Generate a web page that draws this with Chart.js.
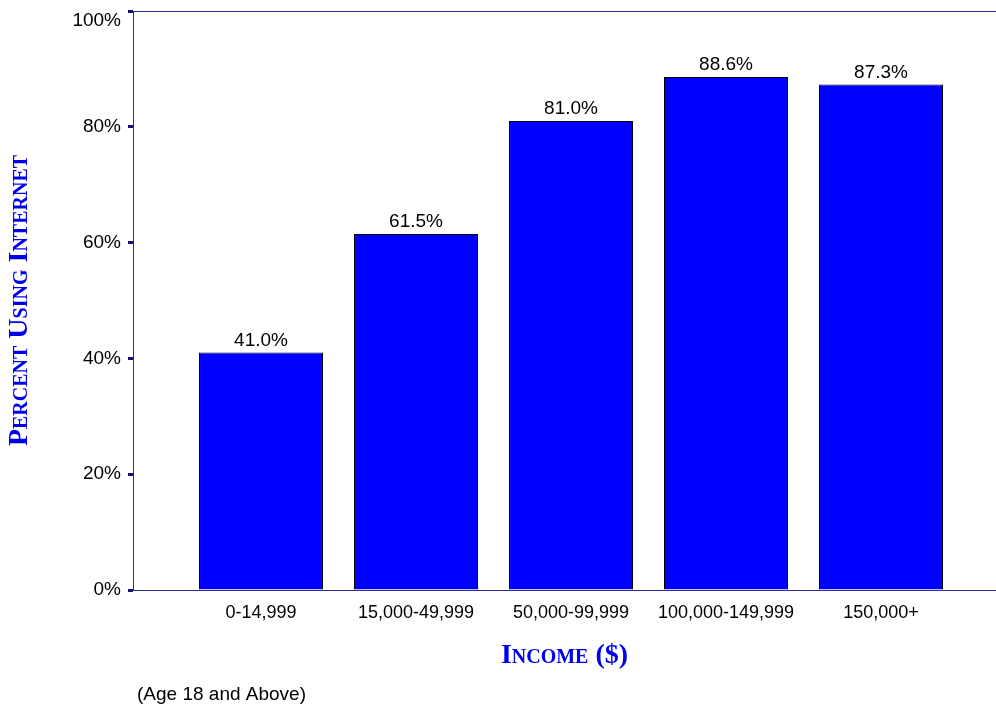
<!DOCTYPE html>
<html>
<head>
  <title>Internet use by income</title>
  <script src="https://cdn.jsdelivr.net/npm/chart.js"></script>
  <style>
    body { margin: 0; background: #fff; }
    #wrap { width: 996px; height: 710px; }
  </style>
</head>
<body>
  <div id="wrap"><canvas id="myChart" width="996" height="710"></canvas></div>
  <script>
    var incomeGroups = ['0-14,999', '15,000-49,999', '50,000-99,999', '100,000-149,999', '150,000+'];
    var percentUsing = [41.0, 61.5, 81.0, 88.6, 87.3];
    var yTicks = [0, 20, 40, 60, 80, 100];
    var yTitle = 'Percent Using Internet';
    var xTitle = 'Income ($)';
    var footNote = '(Age 18 and Above)';

    var sans = "'Liberation Sans', Arial, sans-serif";
    var serif = "'Liberation Serif', 'Times New Roman', serif";
    var axisBlue = '#2e2e9a';
    var titleBlue = '#0000f0';

    // numbers over the bars, and the note under the axis
    var barLabels = {
      id: 'barLabels',
      afterDatasetsDraw: function(chart) {
        var ctx = chart.ctx;
        var meta = chart.getDatasetMeta(0);
        ctx.save();
        ctx.font = '19px ' + sans;
        ctx.fillStyle = '#000';
        ctx.textAlign = 'center';
        ctx.textBaseline = 'alphabetic';
        meta.data.forEach(function(bar, i) {
          ctx.fillText(percentUsing[i].toFixed(1) + '%', bar.x, bar.y - 7);
        });
        ctx.restore();
      },
      afterDraw: function(chart) {
        var ctx = chart.ctx;
        ctx.save();
        ctx.font = '19px ' + sans;
        ctx.fillStyle = '#000';
        ctx.textBaseline = 'middle';
        ctx.fillText(footNote, 137, 695);
        ctx.restore();
      }
    };

    var ctx = document.getElementById('myChart').getContext('2d');
    var myChart = new Chart(ctx, {
      type: 'bar',
      data: {
        datasets: [{
          data: percentUsing.map(function(v, i) { return { x: i, y: v }; }),
          backgroundColor: '#0000ff',
          borderColor: '#000000',
          borderWidth: 1,
          categoryPercentage: 1,
          barPercentage: 0.8
        }]
      },
      options: {
        responsive: false,
        animation: false,
        layout: { padding: { top: 11, right: 0, bottom: 0, left: 0 } },
        plugins: { legend: { display: false }, tooltip: { enabled: false } },
        scales: {
          x: {
            type: 'linear',
            offset: false,
            min: -0.826,
            max: 4.742,
            afterBuildTicks: function(scale) {
              scale.ticks = incomeGroups.map(function(c, i) { return { value: i }; });
            },
            afterFit: function(scale) { scale.height = 120; },
            grid: { display: false, drawTicks: false, offset: false },
            border: { display: true, color: axisBlue, width: 1 },
            ticks: {
              callback: function(v) { return incomeGroups[v]; },
              color: '#000',
              font: { family: sans, size: 18 },
              padding: 12,
              maxRotation: 0,
              autoSkip: false
            },
            title: {
              display: true,
              text: xTitle,
              color: titleBlue,
              font: { family: serif, size: 28, weight: 'bold small-caps' },
              padding: { top: 0, bottom: 37 }
            }
          },
          xTop: {
            type: 'linear',
            position: 'top',
            offset: false,
            min: 0,
            max: 1,
            afterFit: function(scale) { scale.height = 0; },
            ticks: { display: false },
            grid: { display: false, drawTicks: false },
            border: { display: true, color: axisBlue, width: 1 }
          },
          y: {
            min: 0,
            max: 100,
            afterBuildTicks: function(scale) {
              scale.ticks = yTicks.map(function(t) { return { value: t }; });
            },
            afterFit: function(scale) {
              scale.width = 133;
              // keep the plot top at the layout padding, labels may overhang
              scale.paddingTop = 0;
              scale.paddingBottom = 0;
            },
            grid: { drawOnChartArea: false, drawTicks: true, tickLength: 5, tickWidth: 3, tickColor: '#141470' },
            border: { display: true, color: axisBlue, width: 1 },
            ticks: {
              // top label sits a line lower so it stays inside the page
              callback: function(v) { return v === 100 ? ['', v + '%'] : v + '%'; },
              color: '#000',
              font: { family: sans, size: 19, lineHeight: 1 },
              padding: 7
            },
            title: {
              display: true,
              text: yTitle,
              color: titleBlue,
              font: { family: serif, size: 28, weight: 'bold small-caps' },
              padding: { top: 3, bottom: 0 }
            }
          }
        }
      },
      plugins: [barLabels]
    });
  </script>
</body>
</html>
